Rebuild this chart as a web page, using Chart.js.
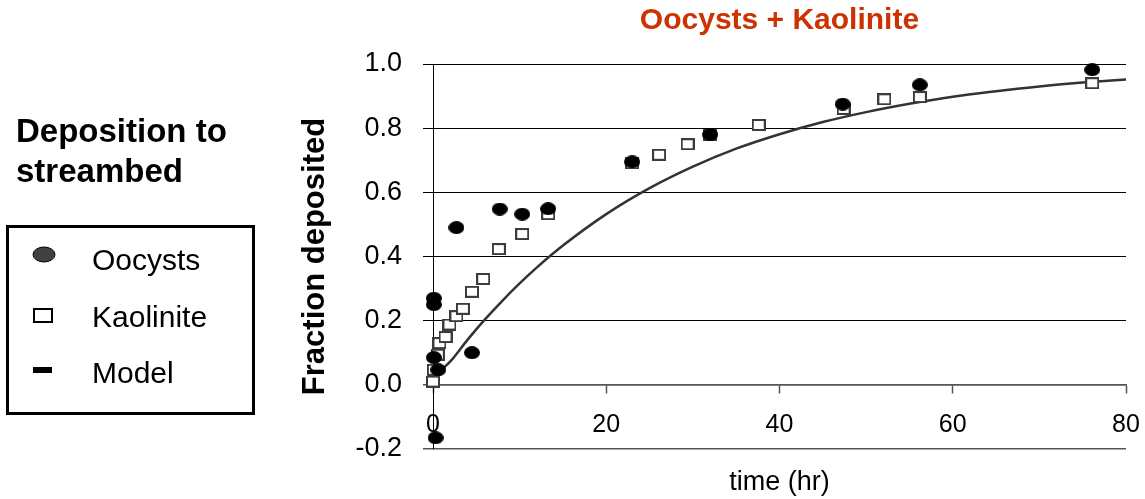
<!DOCTYPE html>
<html>
<head>
<meta charset="utf-8">
<script src="https://cdn.jsdelivr.net/npm/chart.js@4/dist/chart.umd.min.js"></script>
<style>
  html, body { margin: 0; padding: 0; background: #fff; }
  #wrap { width: 1145px; height: 499px; }
</style>
</head>
<body>
<div id="wrap"><canvas id="chart" width="1145" height="499"></canvas></div>
<script>
// values
const oocystTime = [0.1, 0.1, 0.1, 0.6, 0.3, 2.7, 4.5, 7.7, 10.3, 13.3, 23.0, 32.0, 47.3, 56.2, 76.1];
const oocystFrac = [0.27, 0.25, 0.085, 0.047, -0.165, 0.49, 0.10, 0.548, 0.532, 0.549, 0.695, 0.78, 0.875, 0.935, 0.982];

const kaolTime = [0.0, 0.1, 0.55, 0.75, 1.45, 1.9, 2.7, 3.45, 4.5, 5.8, 7.6, 10.3, 13.3, 23.0, 26.1, 29.4, 32.0, 37.6, 47.4, 52.1, 56.2, 76.1];
const kaolFrac = [0.01, 0.047, 0.094, 0.13, 0.149, 0.188, 0.214, 0.237, 0.29, 0.33, 0.423, 0.47, 0.532, 0.69, 0.717, 0.75, 0.78, 0.81, 0.86, 0.89, 0.897, 0.94];

const modelTime = [0.7, 2, 4, 6, 8, 10, 12, 15, 20, 25, 30, 35, 40, 45, 50, 55, 60, 65, 70, 75, 80];
const modelFrac = [0.04, 0.073, 0.141, 0.204, 0.262, 0.316, 0.366, 0.434, 0.532, 0.613, 0.68, 0.736, 0.781, 0.819, 0.85, 0.876, 0.898, 0.915, 0.93, 0.942, 0.952];

const seriesNames = ['Oocysts', 'Kaolinite', 'Model'];
const chartTitle = 'Oocysts + Kaolinite';
const sideHeading = ['Deposition to', 'streambed'];
const xTitle = 'time (hr)';
const yTitle = 'Fraction deposited';

const FONT = "'Liberation Sans', Arial, sans-serif";

const toPts = (xs, ys) => xs.map((x, i) => ({x, y: ys[i]}));

function ellipseMark(w, h, fill) {
  const c = document.createElement('canvas');
  c.width = w; c.height = h;
  const g = c.getContext('2d');
  g.beginPath();
  g.ellipse(w / 2, h / 2, w / 2, h / 2, 0, 0, Math.PI * 2);
  g.fillStyle = fill;
  g.fill();
  return c;
}
function squareMark(w, h, stroke, lw) {
  const c = document.createElement('canvas');
  c.width = w; c.height = h;
  const g = c.getContext('2d');
  g.fillStyle = '#fff';
  g.fillRect(0, 0, w, h);
  g.strokeStyle = stroke;
  g.lineWidth = lw;
  g.strokeRect(lw / 2, lw / 2, w - lw, h - lw);
  return c;
}

// heading + boxed legend on the left
const sidePanel = {
  id: 'sidePanel',
  afterDraw(chart) {
    const ctx = chart.ctx;
    const ds = chart.data.datasets;
    ctx.save();
    ctx.fillStyle = '#000';
    ctx.textBaseline = 'alphabetic';
    ctx.textAlign = 'left';
    ctx.font = 'bold 33px ' + FONT;
    ctx.fillText(sideHeading[0], 16, 142);
    ctx.fillText(sideHeading[1], 16, 182);

    ctx.lineWidth = 3;
    ctx.strokeStyle = '#000';
    ctx.strokeRect(7.5, 226.5, 246, 187);

    // markers
    ctx.beginPath();
    ctx.ellipse(44, 254.5, 11, 7.5, 0, 0, Math.PI * 2);
    ctx.fillStyle = '#404040';
    ctx.fill();
    ctx.lineWidth = 1;
    ctx.strokeStyle = '#000';
    ctx.stroke();

    ctx.fillStyle = '#fff';
    ctx.fillRect(34, 309, 18, 13);
    ctx.lineWidth = 2;
    ctx.strokeRect(34, 309, 18, 13);

    ctx.fillStyle = '#000';
    ctx.fillRect(33, 367, 19, 6);

    ctx.font = '30px ' + FONT;
    ctx.fillText(ds[0].label, 92, 270);
    ctx.fillText(ds[1].label, 92, 327);
    ctx.fillText(ds[2].label, 92, 383);
    ctx.restore();
  }
};

const gridColor = c => (c.tick && (c.tick.value <= 0.001)) ? '#555' : '#000';
const gridWidth = c => (c.tick && (c.tick.value <= 0.001)) ? 1.5 : 1;

new Chart(document.getElementById('chart'), {
  type: 'scatter',
  data: {
    datasets: [
      {
        label: seriesNames[0],
        data: toPts(oocystTime, oocystFrac),
        pointStyle: ellipseMark(16, 13, '#000'),
        clip: false
      },
      {
        label: seriesNames[1],
        data: toPts(kaolTime, kaolFrac),
        pointStyle: squareMark(14, 12, '#3c3c3c', 2),
        clip: false
      },
      {
        label: seriesNames[2],
        type: 'line',
        data: toPts(modelTime, modelFrac),
        showLine: true,
        pointRadius: 0,
        borderColor: '#333',
        borderWidth: 2.5,
        cubicInterpolationMode: 'monotone',
        fill: false
      }
    ]
  },
  options: {
    responsive: false,
    animation: false,
    devicePixelRatio: 1,
    layout: { padding: { left: 0, right: 19, top: 0, bottom: 0 } },
    plugins: {
      legend: { display: false },
      tooltip: { enabled: false },
      title: {
        display: true,
        text: chartTitle,
        fullSize: false,
        color: '#cc3300',
        font: { family: FONT, size: 30, weight: 'bold' },
        padding: { top: 3, bottom: 25 }
      }
    },
    scales: {
      x: {
        type: 'linear',
        position: { y: 0 },
        min: 0, max: 80,
        ticks: { stepSize: 20, color: '#000', padding: 17, font: { family: FONT, size: 25 } },
        grid: { drawOnChartArea: false, drawTicks: true, tickLength: 8, tickColor: '#555', tickWidth: 1.5 },
        border: { display: true, color: '#555', width: 1.5 },
        afterFit: s => { s.height = 0; s.paddingLeft = 0; s.paddingRight = 0; }
      },
      x2: {
        type: 'linear',
        position: 'bottom',
        ticks: { display: false },
        grid: { display: false },
        border: { display: false },
        title: { display: true, text: xTitle, color: '#000', font: { family: FONT, size: 27 }, padding: { top: 0, bottom: 0 } },
        afterFit: s => { s.height = 50; s.paddingLeft = 0; s.paddingRight = 0; }
      },
      y: {
        min: -0.2, max: 1.0,
        ticks: {
          stepSize: 0.2, color: '#000', padding: 21,
          font: { family: FONT, size: 27 },
          callback: v => (Math.abs(v) < 1e-9 ? 0 : v).toFixed(1)
        },
        grid: { color: gridColor, lineWidth: gridWidth, tickLength: 10, tickColor: gridColor },
        border: { display: true, color: '#000', width: 1 },
        title: {
          display: true, text: yTitle, color: '#000',
          font: { family: FONT, size: 31, weight: 'bold' },
          padding: { top: 297, bottom: 0 }
        },
        afterFit: s => { s.width = 433; }
      }
    }
  },
  plugins: [sidePanel]
});
</script>
</body>
</html>
